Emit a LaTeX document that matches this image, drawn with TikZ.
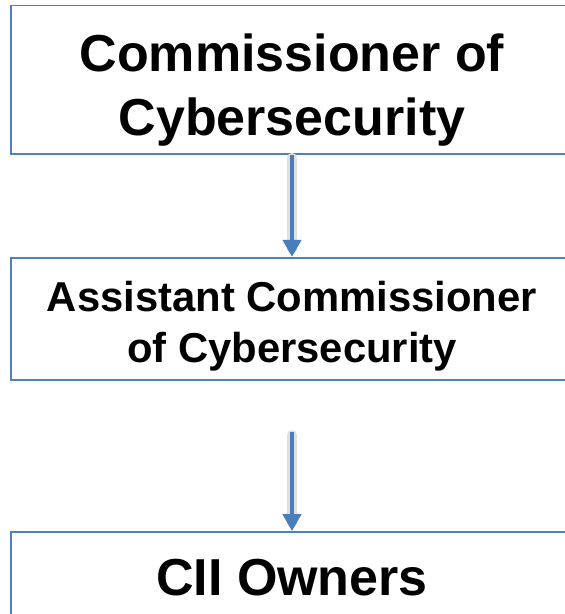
\documentclass[tikz,border=0pt]{standalone}
\usepackage{fontspec}
\setmainfont{Liberation Sans}
\usetikzlibrary{arrows.meta}
\definecolor{boxblue}{HTML}{4F81BD}
\definecolor{arrblue}{HTML}{4A7EBB}
\tikzset{
  box/.style={draw=boxblue, line width=1.8pt, rectangle, inner sep=0pt},
  arr/.style={draw=arrblue, line width=4.5pt, -{Triangle[width=18pt,length=17pt]}},
  shad/.style={draw=black!12, line width=10pt, line cap=round},
  big/.style={font=\fontsize{52}{60}\selectfont\bfseries, anchor=base, inner sep=0pt},
  mid/.style={font=\fontsize{41.8}{50}\selectfont\bfseries, anchor=base, inner sep=0pt}
}
\begin{document}
\begin{tikzpicture}[x=1pt,y=-1pt]
\useasboundingbox (0,0) rectangle (565,614);
\clip (0,0) rectangle (565,614);
\node[box, minimum width=562pt, minimum height=148.5pt] (b1) at (292,79.75) {};
\node[box, minimum width=562pt, minimum height=122.5pt] (b2) at (292,319) {};
\node[box, minimum width=562pt, minimum height=160pt] (b3) at (292,612) {};
\node[big] (t1a) at (292,71) {Commissioner of};
\node[big] (t1b) at (292,135) {Cybersecurity};
\node[mid] (t2a) at (292,311) {Assistant Commissioner};
\node[mid] (t2b) at (292,362) {of Cybersecurity};
\node[big] (t3) at (292,595) {CII Owners};
\coordinate (a2s) at (292,432);
\draw[shad] ([yshift=-3pt]b1.south) -- ([yshift=8pt]b2.north);
\draw[shad] ([yshift=-3pt]a2s) -- ([yshift=8pt]b3.north);
\draw[arr] (b1.south) -- (b2.north);
\draw[arr] (a2s) -- (b3.north);
\end{tikzpicture}
\end{document}
